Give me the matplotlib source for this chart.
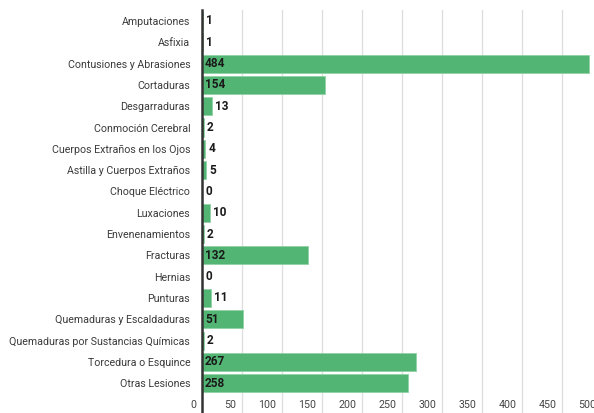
import matplotlib.pyplot as plt

plt.rcParams['font.family'] = ['Roboto', 'DejaVu Sans']

categorias = [
    'Amputaciones', 'Asfixia', 'Contusiones y Abrasiones', 'Cortaduras',
    'Desgarraduras', 'Conmoción Cerebral', 'Cuerpos Extraños en los Ojos',
    'Astilla y Cuerpos Extraños', 'Choque Eléctrico', 'Luxaciones',
    'Envenenamientos', 'Fracturas', 'Hernias', 'Punturas',
    'Quemaduras y Escaldaduras', 'Quemaduras por Sustancias Químicas',
    'Torcedura o Esquince', 'Otras Lesiones',
]
casos = [1, 1, 484, 154, 13, 2, 4, 5, 0, 10, 2, 132, 0, 11, 51, 2, 267, 258]
ticks_x = [0, 50, 100, 150, 200, 250, 300, 350, 400, 450, 500]

VERDE = '#52b573'

fig = plt.figure(figsize=(5.94, 4.13), dpi=100)
# axes run past the right and bottom edge, like the cropped original
ax = fig.add_axes([202 / 594, 0, 400 / 594, 403 / 413])

pos = list(range(len(categorias)))
ax.barh(pos, casos, height=0.85, color=VERDE, edgecolor='#8fd3a4',
        linewidth=0.6, zorder=3)

ax.set_xlim(0, 500)
ax.set_ylim(18.40, -0.516)

ax.set_yticks(pos)
ax.set_yticklabels(categorias, fontsize=7.7, color='#3a3a3a')
ax.tick_params(axis='y', length=0, pad=8.5)
ax.set_xticks(ticks_x)
ax.tick_params(axis='x', length=0, labelbottom=False)
ax.grid(axis='x', color='#dddddd', linewidth=0.9, zorder=0)

for s in ['top', 'right', 'bottom']:
    ax.spines[s].set_visible(False)
ax.spines['left'].set_color('#333333')
ax.spines['left'].set_linewidth(1.8)
ax.spines['left'].set_zorder(4)

# value labels: inside the bar when it fits, otherwise just after it
for y, v in zip(pos, casos):
    if v > 20:
        ax.annotate(str(v), (0, y), xytext=(2.2, 0), textcoords='offset points',
                    ha='left', va='center', fontsize=8.5, fontweight='bold',
                    color='#1a1a1a', zorder=5)
    else:
        ax.annotate(str(v), (v, y), xytext=(2.2, 0), textcoords='offset points',
                    ha='left', va='center', fontsize=8.5, fontweight='bold',
                    color='#1a1a1a', zorder=5)

# bottom axis labels, right-aligned just left of each gridline
for t in ticks_x:
    ax.annotate(str(t), (t, 18.03), xytext=(-4, 0), textcoords='offset points',
                ha='right', va='center', fontsize=7.7, color='#444444',
                annotation_clip=False)

fig.savefig('out.png', dpi=100)
